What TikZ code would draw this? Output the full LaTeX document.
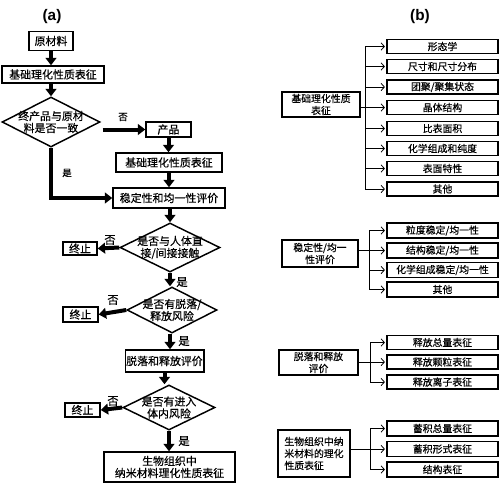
\documentclass[tikz,border=0pt]{standalone}
\usepackage{fontspec}
\setmainfont{Noto Sans CJK SC}[FakeBold=0.4]
\newfontfamily\latinfont{Liberation Sans}
\usetikzlibrary{shapes.geometric,arrows.meta}

\tikzset{every picture/.style={line width=0.75pt}}
\tikzset{
  flowbox/.style={draw, line width=1.1pt, inner sep=0.75pt, align=center, font=\fontsize{8.2}{9}\selectfont},
  qdia/.style={draw, diamond, line width=1.1pt, inner sep=0pt},
  qtext/.style={inner sep=0pt, align=center, font=\fontsize{8.2}{9}\selectfont},
  flowarr/.style={line width=3pt, -{Triangle[width=8pt,length=5.5pt]}},
  ynlab/.style={inner sep=0.75pt, font=\fontsize{8.5}{9}\selectfont},
  ynsmall/.style={inner sep=0.75pt, font=\fontsize{7}{8}\selectfont},
  catbox/.style={draw, line width=1.1pt, inner sep=0.75pt, align=center, font=\fontsize{7.4}{9}\selectfont},
  subbox/.style={draw, line width=1.1pt, inner sep=0pt, minimum width=83.25pt, minimum height=10.5pt, font=\fontsize{7.4}{8}\selectfont},
  brarr/.style={line width=0.6pt, -{Straight Barb[length=2.5pt,width=5.5pt]}, shorten >=1pt},
  trunk/.style={line width=0.6pt},
  title/.style={inner sep=0.75pt, font=\latinfont\bfseries\fontsize{11.5}{12}\selectfont}
}

\begin{document}
\begin{tikzpicture}[x=0.75pt,y=0.75pt,yscale=-1,xscale=1]
\useasboundingbox (0,0) rectangle (500,487);

% Title Node
\node[title] (ta) at (52,17) {(a)};
% Title Node
\node[title] (tb) at (420,17) {(b)};

%Flow chart (a): boxes
\node[flowbox, minimum width=33pt, minimum height=14.25pt] (raw) at (51,41) {原材料};
\node[flowbox, minimum width=76.5pt, minimum height=12.75pt] (base1) at (53,74.5) {基础理化性质表征};
\node[qdia, minimum width=73.5pt, minimum height=37.5pt, label={[qtext]center:终产品与原材\\料是否一致}] (q1) at (51,122) {};
\node[flowbox, minimum width=33.75pt, minimum height=11.25pt] (prod) at (168.5,129.5) {产品};
\node[flowbox, minimum width=79.5pt, minimum height=14.25pt] (base2) at (169,162.5) {基础理化性质表征};
\node[flowbox, minimum width=84pt, minimum height=15pt] (eval) at (169,198) {稳定性和均一性评价};
\node[qdia, minimum width=75pt, minimum height=36.75pt, label={[qtext]center:是否与人体直\\接/间接接触}] (q2) at (170,247.5) {};
\node[flowbox, minimum width=25.5pt, minimum height=9.75pt] (stop1) at (80,248.5) {终止};
\node[qdia, minimum width=67.5pt, minimum height=34.5pt, label={[qtext]center:是否有脱落/\\释放风险}] (q3) at (172,310) {};
\node[flowbox, minimum width=26.25pt, minimum height=11.25pt] (stop2) at (80.5,314.5) {终止};
\node[flowbox, minimum width=57.75pt, minimum height=16.5pt] (rel) at (164.5,361) {脱落和释放评价};
\node[qdia, minimum width=69pt, minimum height=33.75pt, label={[qtext]center:是否有进入\\体内风险}] (q4) at (169,407.5) {};
\node[flowbox, minimum width=26.25pt, minimum height=10.5pt] (stop3) at (82.5,410) {终止};
\node[flowbox, minimum width=98.25pt, minimum height=22.5pt] (bio) at (169.5,467) {生物组织中\\纳米材料理化性质表征};

%Flow chart (a): arrows
\draw[flowarr] (raw.south) -- (raw.south |- base1.north);
\draw[flowarr] (q1 |- base1.south) -- (q1.north);
\draw[flowarr] ([xshift=1.5pt]q1.east |- prod.west) -- (prod.west);
\draw[flowarr] (prod.south) -- (prod.south |- base2.north);
\draw[flowarr] (base2.south) -- (eval.north);
\draw[flowarr] (q1.south) |- (eval.west);
\draw[flowarr] (eval.south) -- (eval.south -| q2) -- (q2.north);
\draw[flowarr] (q2.west) -- (stop1.east);
\draw[flowarr] (q2.south) -- (q2.south |- q3.north);
\draw[flowarr] (q3.west) -- (stop2.east);
\draw[flowarr] ([xshift=-1.5pt]q3.south) -- ([xshift=-1.5pt]q3.south |- rel.north);
\draw[flowarr] (rel.south) -- (rel.south |- q4.north);
\draw[flowarr] (q4.west) -- (stop3.east);
\draw[flowarr] (q4.south) -- (q4.south |- bio.north);

% Text Node
\node[ynsmall] (no1) at (123,117) {否};
\node[ynsmall] (yes1) at (67,173) {是};
\node[ynlab] (no2) at (110,240) {否};
\node[ynlab] (yes2) at (182,282) {是};
\node[ynlab] (no3) at (113,300) {否};
\node[ynlab] (yes3) at (184,341) {是};
\node[ynlab] (no4) at (113,401) {否};
\node[ynlab] (yes4) at (184,441) {是};

%Part (b): group 1
\node[catbox, minimum width=58.5pt, minimum height=18.75pt] (g1) at (321,104.5) {基础理化性质\\表征};
\node[subbox] (b1) at (442.5,46.5) {形态学};
\node[subbox] (b2) at (442.5,66.5) {尺寸和尺寸分布};
\node[subbox] (b3) at (442.5,87) {团聚/聚集状态};
\node[subbox] (b4) at (442.5,107.5) {晶体结构};
\node[subbox] (b5) at (442.5,128.5) {比表面积};
\node[subbox] (b6) at (442.5,148.5) {化学组成和纯度};
\node[subbox] (b7) at (442.5,168.5) {表面特性};
\node[subbox] (b8) at (442.5,189) {其他};
\coordinate (j1) at (365,104);
\draw[trunk] (g1.east |- b4) -- (j1 |- b4);
\draw[trunk] (j1 |- b1) -- (j1 |- b8);
\draw[brarr] (j1 |- b1) -- (b1.west);
\draw[brarr] (j1 |- b2) -- (b2.west);
\draw[brarr] (j1 |- b3) -- (b3.west);
\draw[brarr] (j1 |- b4) -- (b4.west);
\draw[brarr] (j1 |- b5) -- (b5.west);
\draw[brarr] (j1 |- b6) -- (b6.west);
\draw[brarr] (j1 |- b7) -- (b7.west);
\draw[brarr] (j1 |- b8) -- (b8.west);

%Part (b): group 2
\node[catbox, minimum width=57pt, minimum height=20.25pt] (g2) at (320,253.5) {稳定性/均一\\性评价};
\node[subbox, minimum height=11.25pt] (s1) at (442.5,230.5) {粒度稳定/均一性};
\node[subbox, minimum height=11.25pt] (s2) at (442.5,250.5) {结构稳定/均一性};
\node[subbox, minimum height=11.25pt] (s3) at (442.5,270) {化学组成稳定/均一性};
\node[subbox, minimum height=11.25pt] (s4) at (442.5,289.5) {其他};
\coordinate (j2) at (369,250);
\draw[trunk] (g2.east |- s2) -- (j2 |- s2);
\draw[trunk] (j2 |- s1) -- (j2 |- s4);
\draw[brarr] (j2 |- s1) -- (s1.west);
\draw[brarr] (j2 |- s2) -- (s2.west);
\draw[brarr] (j2 |- s3) -- (s3.west);
\draw[brarr] (j2 |- s4) -- (s4.west);

%Part (b): group 3
\node[catbox, minimum width=59.25pt, minimum height=18.75pt] (g3) at (318.5,362.5) {脱落和释放\\评价};
\node[subbox] (r1) at (442.5,342.5) {释放总量表征};
\node[subbox] (r2) at (442.5,362) {释放颗粒表征};
\node[subbox] (r3) at (442.5,382) {释放离子表征};
\coordinate (j3) at (370,362);
\draw[trunk] (g3.east |- r2) -- (j3 |- r2);
\draw[trunk] (j3 |- r1) -- (j3 |- r3);
\draw[brarr] (j3 |- r1) -- (r1.west);
\draw[brarr] (j3 |- r2) -- (r2.west);
\draw[brarr] (j3 |- r3) -- (r3.west);

%Part (b): group 4
\node[catbox, align=left, minimum width=54pt, minimum height=35.25pt] (g4) at (314,453.5) {生物组织中纳\\米材料的理化\\性质表征};
\node[subbox, minimum height=11.25pt] (t1) at (442.5,428.5) {蓄积总量表征};
\node[subbox, minimum height=11.25pt] (t2) at (442.5,449) {蓄积形式表征};
\node[subbox, minimum height=11.25pt] (t3) at (442.5,469.5) {结构表征};
\coordinate (j4) at (370,449);
\draw[trunk] (g4.east |- t2) -- (j4 |- t2);
\draw[trunk] (j4 |- t1) -- (j4 |- t3);
\draw[brarr] (j4 |- t1) -- (t1.west);
\draw[brarr] (j4 |- t2) -- (t2.west);
\draw[brarr] (j4 |- t3) -- (t3.west);

\end{tikzpicture}
\end{document}
